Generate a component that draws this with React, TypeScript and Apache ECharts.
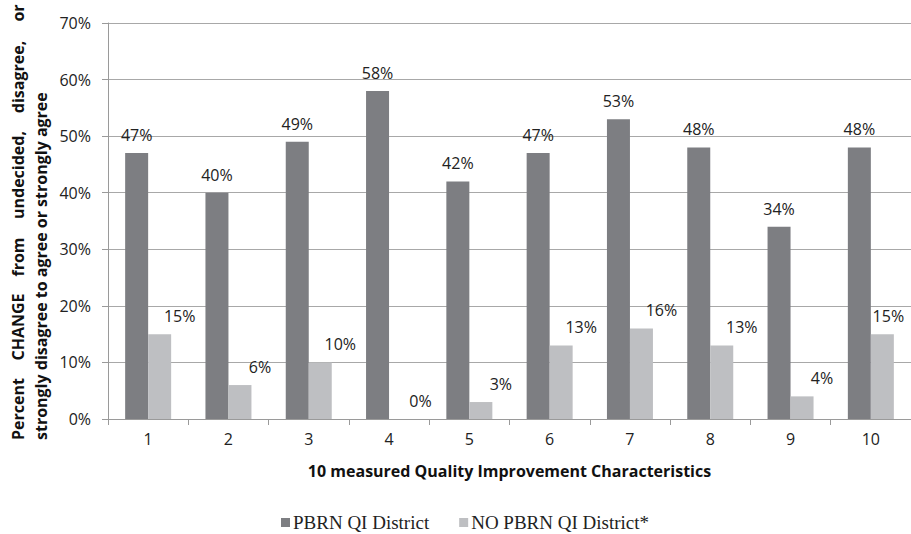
import React, { useEffect, useRef } from "react";
import * as echarts from "echarts";

const categories = ["1", "2", "3", "4", "5", "6", "7", "8", "9", "10"];
const pbrnValues = [47, 40, 49, 58, 42, 47, 53, 48, 34, 48];
const noPbrnValues = [15, 6, 10, 0, 3, 13, 16, 13, 4, 15];
const seriesNames = ["PBRN QI District", "NO PBRN QI District*"];
const xAxisTitle = "10 measured Quality Improvement Characteristics";
const yTitleLine1 = ["Percent", "CHANGE", "from", "undecided,", "disagree,", "or"];
const yTitleLine2 = "strongly disagree to agree or strongly agree";

const DARK = "#7d7e82";
const LIGHT = "#bebfc2";
const SANS = "'Open Sans', 'Noto Sans', sans-serif";

export default function App() {
  const ref = useRef<HTMLDivElement>(null);

  useEffect(() => {
    if (!ref.current) return;
    const chart = echarts.init(ref.current, null, { renderer: "svg" });

    // y positions (centers) for justified first title line, bottom to top
    const line1Centers = [409, 327, 257, 175, 77, 13];

    const lightData = noPbrnValues.map((v, i) =>
      i === noPbrnValues.length - 1 ? { value: v, label: { offset: [6, 0] } } : v
    );

    const option: any = {
      animation: false,
      backgroundColor: "#ffffff",
      grid: { left: 108, right: -7, top: 23, bottom: 115, containLabel: false },
      legend: {
        data: seriesNames,
        left: 276,
        top: 508,
        icon: "rect",
        itemWidth: 9,
        itemHeight: 9,
        itemGap: 30,
        textStyle: { fontFamily: "'Liberation Serif', serif", fontSize: 19, color: "#222", padding: [0, 0, 0, -2] },
      },
      xAxis: {
        type: "category",
        data: categories,
        boundaryGap: true,
        axisLine: { lineStyle: { color: "#9a9a9a", width: 1 } },
        axisTick: { show: true, length: 6, lineStyle: { color: "#9a9a9a" }, alignWithLabel: false },
        axisLabel: { fontFamily: SANS, fontSize: 16, color: "#222", margin: 12 },
        name: xAxisTitle,
        nameLocation: "middle",
        nameGap: 44,
        nameTextStyle: { fontFamily: SANS, fontSize: 16, fontWeight: "bold", color: "#111" },
      },
      yAxis: {
        type: "value",
        min: 0,
        max: 70,
        interval: 10,
        axisLine: { show: true, lineStyle: { color: "#9a9a9a", width: 1 } },
        axisTick: { show: true, length: 6, lineStyle: { color: "#9a9a9a" } },
        splitLine: { show: true, lineStyle: { color: "#a8a8a8", width: 1 } },
        axisLabel: { fontFamily: SANS, fontSize: 16, color: "#222", margin: 17, formatter: "{value}%" },
      },
      series: [
        {
          name: seriesNames[0],
          type: "bar",
          data: pbrnValues,
          barWidth: 23,
          barGap: "0%",
          itemStyle: { color: DARK },
          label: {
            show: true,
            position: "top",
            distance: 10,
            formatter: "{c}%",
            fontFamily: SANS,
            fontSize: 16,
            color: "#222",
          },
        },
        {
          name: seriesNames[1],
          type: "bar",
          data: lightData,
          barWidth: 23,
          barGap: "0%",
          itemStyle: { color: LIGHT },
          label: {
            show: true,
            position: "top",
            distance: 10,
            offset: [20, 0],
            formatter: "{c}%",
            fontFamily: SANS,
            fontSize: 16,
            color: "#222",
          },
        },
      ],
      graphic: [
        ...yTitleLine1.map((w, i) => ({
          type: "text",
          x: 18,
          y: line1Centers[i],
          rotation: Math.PI / 2,
          style: {
            text: w,
            textAlign: "center",
            textVerticalAlign: "middle",
            font: "bold 16px 'Open Sans', sans-serif",
            fill: "#111",
          },
        })),
        {
          type: "text",
          x: 41,
          y: 440,
          rotation: Math.PI / 2,
          style: {
            text: yTitleLine2,
            textAlign: "left",
            textVerticalAlign: "middle",
            font: "bold 16px 'Open Sans', sans-serif",
            fill: "#111",
          },
        },
      ],
    };

    chart.setOption(option);
    return () => chart.dispose();
  }, []);

  return <div ref={ref} style={{ width: 911, height: 534, position: "absolute", left: 0, top: 0 }} />;
}
